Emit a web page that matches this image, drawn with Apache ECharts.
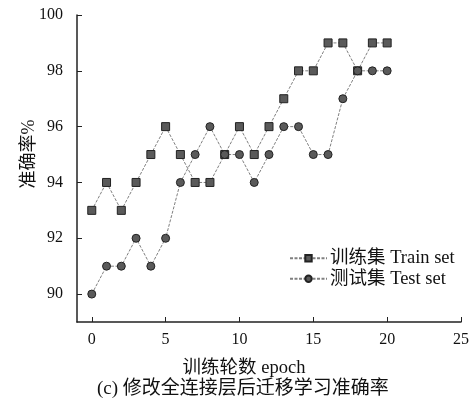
<!DOCTYPE html>
<html><head><meta charset="utf-8">
<script src="https://cdn.jsdelivr.net/npm/echarts@6/dist/echarts.min.js"></script>
<style>html,body{margin:0;padding:0;background:#fff}#c{width:474px;height:409px}</style>
</head><body><div id="c"></div>
<script>
const epochs = [0,1,2,3,4,5,6,7,8,9,10,11,12,13,14,15,16,17,18,19,20];
const trainAcc = [93,94,93,94,95,96,95,94,94,95,96,95,96,97,98,98,99,99,98,99,99];
const testAcc  = [90,91,91,92,91,92,94,95,96,95,95,94,95,96,96,95,95,97,98,98,98];
const xTicks = [0,5,10,15,20,25];
const yTicks = [90,92,94,96,98,100];
const trainName = '训练集 Train set';
const testName = '测试集 Test set';
const xName = '训练轮数 epoch';
const yName = '准确率%';
const caption = '(c) 修改全连接层后迁移学习准确率';

const FONT = "'Liberation Serif', 'Noto Sans CJK SC', serif";
const chart = echarts.init(document.getElementById('c'), null, {renderer:'canvas'});
const lineStyle = {color:'#808080', width:1, type:[3,1.5]};
chart.setOption({
  animation:false,
  backgroundColor:'#fff',
  title:{text:caption, left:97, top:380, padding:0,
    textStyle:{fontFamily:FONT, fontSize:19, fontWeight:'normal', color:'#111'}},
  grid:{left:77, right:13, top:15, bottom:87},
  legend:{
    orient:'vertical', left:289, top:249, padding:0, itemWidth:37, itemHeight:8, itemGap:2,
    textStyle:{fontFamily:FONT, fontSize:18.5, color:'#111', padding:[0,0,0,-2]},
    data:[trainName, testName]
  },
  xAxis:{
    type:'value', min:-1, max:25,
    name:xName, nameLocation:'middle', nameGap:37,
    nameTextStyle:{fontFamily:FONT, fontSize:18.5, color:'#111', padding:[0,50,0,0]},
    axisLine:{onZero:false, lineStyle:{color:'#222', width:1.5}},
    axisTick:{inside:true, length:5, customValues:xTicks, lineStyle:{color:'#222'}},
    axisLabel:{customValues:xTicks, margin:10, fontFamily:FONT, fontSize:16, color:'#111'},
    splitLine:{show:false}
  },
  yAxis:{
    type:'value', min:89, max:100,
    axisLine:{show:true, onZero:false, lineStyle:{color:'#222', width:1.5}},
    axisTick:{show:true, inside:true, length:5, customValues:yTicks, lineStyle:{color:'#222'}},
    axisLabel:{customValues:yTicks, margin:14, fontFamily:FONT, fontSize:16, color:'#111'},
    splitLine:{show:false}
  },
  graphic:[{type:'text', x:29, y:154, rotation:Math.PI/2,
    style:{text:yName, font:"18px 'Liberation Serif', 'Noto Sans CJK SC'", fill:'#111', align:'center', verticalAlign:'middle'}}],
  series:[
    {name:trainName, type:'line', data:epochs.map((e,i)=>[e,trainAcc[i]]),
     symbol:'rect', symbolSize:8, lineStyle:lineStyle,
     itemStyle:{color:'#5a5a5a', borderColor:'#222', borderWidth:1}},
    {name:testName, type:'line', data:epochs.map((e,i)=>[e,testAcc[i]]),
     symbol:'circle', symbolSize:8, lineStyle:lineStyle,
     itemStyle:{color:'#5a5a5a', borderColor:'#222', borderWidth:1}}
  ]
});
</script></body></html>
